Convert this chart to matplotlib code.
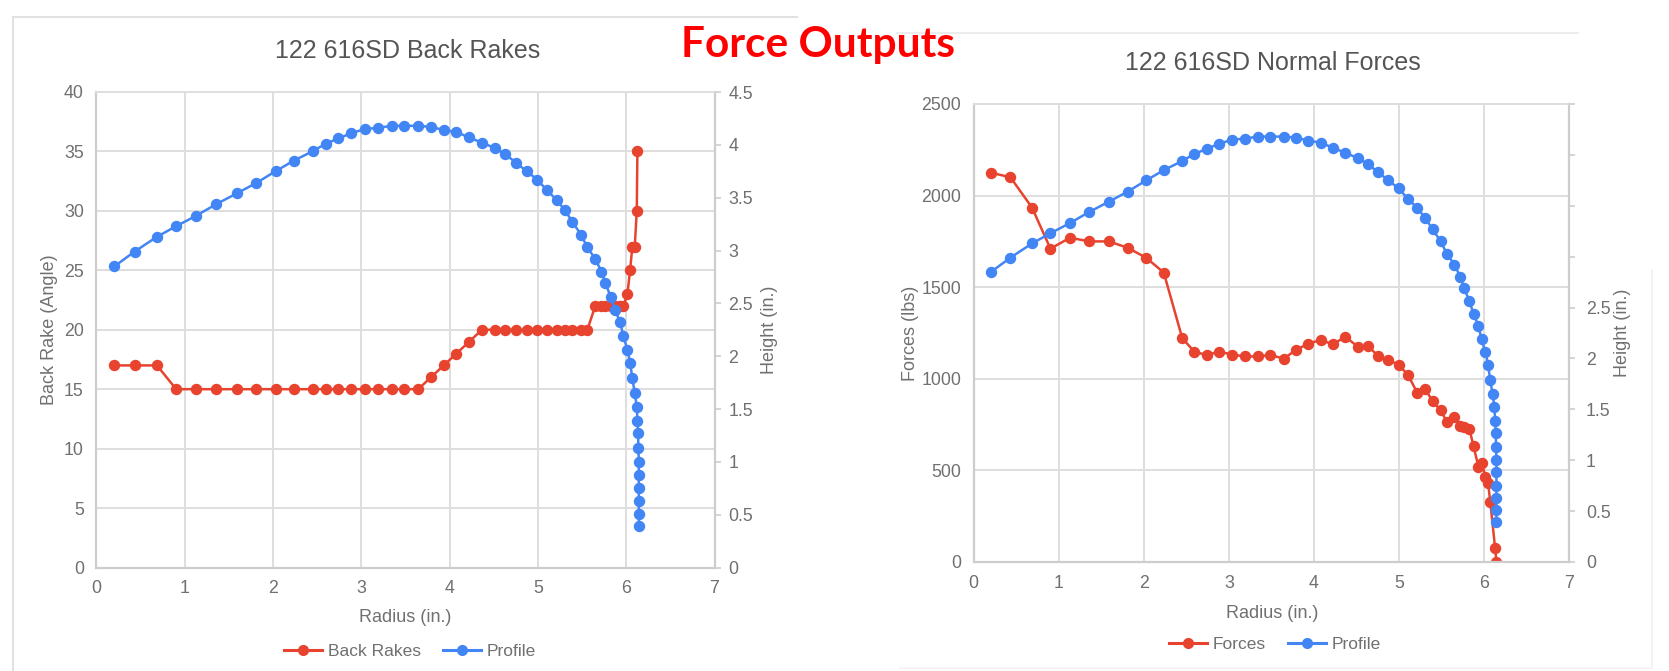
import matplotlib
matplotlib.use("Agg")
import matplotlib.pyplot as plt
from matplotlib.lines import Line2D

# cutter positions along the bit (in.)
radius = [0.205, 0.434, 0.687, 0.904, 1.133, 1.361, 1.590, 1.813, 2.030, 2.235,
          2.452, 2.596, 2.741, 2.886, 3.042, 3.187, 3.343, 3.488, 3.645, 3.789,
          3.934, 4.078, 4.223, 4.367, 4.512, 4.633, 4.753, 4.873, 4.994, 5.102,
          5.211, 5.307, 5.392, 5.488, 5.560, 5.650, 5.720, 5.765, 5.826, 5.874,
          5.931, 5.968, 6.014, 6.044, 6.070, 6.097, 6.120, 6.127, 6.135, 6.138,
          6.143, 6.143, 6.143, 6.143, 6.143, 6.143]
profile = [2.85, 2.99, 3.13, 3.23, 3.33, 3.44, 3.54, 3.64, 3.75, 3.85,
           3.94, 4.01, 4.06, 4.11, 4.15, 4.16, 4.18, 4.18, 4.18, 4.17,
           4.14, 4.12, 4.07, 4.02, 3.97, 3.91, 3.83, 3.75, 3.67, 3.57,
           3.48, 3.38, 3.27, 3.15, 3.03, 2.92, 2.80, 2.69, 2.56, 2.44,
           2.32, 2.19, 2.06, 1.94, 1.79, 1.65, 1.52, 1.39, 1.27, 1.13,
           1.00, 0.88, 0.75, 0.63, 0.51, 0.39]

back_rakes = [17, 17, 17,
              15, 15, 15, 15, 15, 15, 15, 15, 15, 15, 15, 15, 15, 15, 15, 15,
              16, 17, 18, 19,
              20, 20, 20, 20, 20, 20, 20, 20, 20, 20, 20, 20,
              22, 22, 22, 22, 22, 22, 22,
              23, 25, 27, 27, 30, 35]
rake_radius = radius[:len(back_rakes)]

forces = [2125, 2100, 1935, 1710, 1770, 1750, 1750, 1715, 1660, 1580,
          1222, 1147, 1130, 1148, 1132, 1122, 1122, 1130, 1110, 1158,
          1192, 1212, 1188, 1230, 1176, 1180, 1124, 1105, 1075, 1023,
          925, 945, 877, 828, 765, 791, 744, 737, 726, 631,
          521, 543, 466, 433, 330, 77, 0]
force_radius = radius[:45] + [6.127, 6.143]

height_ticks = [0, 0.5, 1, 1.5, 2, 2.5, 3, 3.5, 4, 4.5]
height_labels_left = ["0", "0.5", "1", "1.5", "2", "2.5", "3", "3.5", "4", "4.5"]
height_labels_right = ["0", "0.5", "1", "1.5", "2", "2.5", "", "", "", ""]

RED = "#E8432F"
BLUE = "#4285F4"
GRID = "#dedede"
AXIS = "#cdcdcd"
TXT = "#707070"
TITLE = "#555555"
FONT = "Liberation Sans"

W, H = 1669, 671
plt.rcParams["font.family"] = [FONT, "DejaVu Sans"]
fig = plt.figure(figsize=(W / 100, H / 100), dpi=100)


def fx(x):
    return x / W


def fy(y):
    return 1 - y / H


def rect(x0, y0, x1, y1):
    return [fx(x0), fy(y1), fx(x1) - fx(x0), fy(y0) - fy(y1)]


def style(ax, ax2, ylim, yticks):
    ax.set_xlim(0, 7)
    ax.set_xticks(range(8))
    ax.set_ylim(*ylim)
    ax.set_yticks(yticks)
    ax.grid(True, color=GRID, lw=1.4)
    ax.set_axisbelow(True)
    ax.tick_params(length=0, labelsize=12.8, labelcolor=TXT, pad=9)
    for s in ["left", "bottom", "right"]:
        ax.spines[s].set_color(AXIS)
        ax.spines[s].set_linewidth(1.6)
    ax.spines["top"].set_color(GRID)
    ax.spines["top"].set_linewidth(1.4)
    ax2.set_ylim(0, 4.5)
    ax2.tick_params(length=4, width=1.2, color=AXIS, labelsize=12.8,
                    labelcolor=TXT, pad=6)
    for s in ax2.spines.values():
        s.set_visible(False)


def series(ax, x, y, color, label):
    return ax.plot(x, y, color=color, lw=1.8, marker="o", ms=7.2,
                   mec=color, mfc=color, label=label)[0]


# ---- left chart: back rakes ----
ax = fig.add_axes(rect(96.3, 92, 714.5, 567.5))
ax2 = ax.twinx()
series(ax, rake_radius, back_rakes, RED, "Back Rakes")
series(ax2, radius, profile, BLUE, "Profile")
style(ax, ax2, (0, 40), range(0, 45, 5))
ax2.set_yticks(height_ticks)
ax2.set_yticklabels(height_labels_left)

fig.text(fx(408), fy(51), "122 616SD Back Rakes", ha="center", va="center",
         fontsize=18, color=TITLE)
fig.text(fx(49), fy(330), "Back Rake (Angle)", rotation=90, ha="center",
         va="center", fontsize=13, color=TXT)
fig.text(fx(769), fy(330), "Height (in.)", rotation=90, ha="center",
         va="center", fontsize=13, color=TXT)
fig.text(fx(405), fy(617), "Radius (in.)", ha="center", va="center",
         fontsize=13, color=TXT)

h = [Line2D([], [], color=RED, lw=2.2, marker="o", ms=7),
     Line2D([], [], color=BLUE, lw=2.2, marker="o", ms=7)]
leg = fig.legend(h, ["Back Rakes", "Profile"], loc="center",
                 bbox_to_anchor=(fx(410), fy(651)), ncol=2, frameon=False,
                 fontsize=12.5, handlelength=2.2, handletextpad=0.3,
                 columnspacing=1.3)
for t in leg.get_texts():
    t.set_color(TXT)

# ---- right chart: normal forces ----
bx = fig.add_axes(rect(973.5, 104, 1569.4, 562))
bx2 = bx.twinx()
series(bx, force_radius, forces, RED, "Forces")
series(bx2, radius, profile, BLUE, "Profile")
style(bx, bx2, (0, 2500), range(0, 2501, 500))
bx2.set_yticks(height_ticks)
bx2.set_yticklabels(height_labels_right)
bx2.tick_params(pad=8)

fig.text(fx(1273), fy(63.5), "122 616SD Normal Forces", ha="center",
         va="center", fontsize=18, color=TITLE)
fig.text(fx(910), fy(333), "Forces (lbs)", rotation=90, ha="center",
         va="center", fontsize=13, color=TXT)
fig.text(fx(1622), fy(333), "Height (in.)", rotation=90, ha="center",
         va="center", fontsize=13, color=TXT)
fig.text(fx(1272), fy(613), "Radius (in.)", ha="center", va="center",
         fontsize=13, color=TXT)

h = [Line2D([], [], color=RED, lw=2.2, marker="o", ms=7),
     Line2D([], [], color=BLUE, lw=2.2, marker="o", ms=7)]
leg = fig.legend(h, ["Forces", "Profile"], loc="center",
                 bbox_to_anchor=(fx(1275), fy(644)), ncol=2, frameon=False,
                 fontsize=12.5, handlelength=2.2, handletextpad=0.3,
                 columnspacing=1.3)
for t in leg.get_texts():
    t.set_color(TXT)

# screenshot frames
fig.add_artist(Line2D([fx(13), fx(797)], [fy(16.7), fy(16.7)], color="#e2e2e2", lw=1.5))
fig.add_artist(Line2D([fx(13), fx(13)], [fy(16.7), fy(671)], color="#e2e2e2", lw=1.5))
fig.add_artist(Line2D([fx(897), fx(1578)], [fy(32.7), fy(32.7)], color="#ececec", lw=1.5))
fig.add_artist(Line2D([fx(1652), fx(1652)], [fy(270), fy(668)], color="#f2f2f2", lw=1.2))
fig.add_artist(Line2D([fx(900), fx(1652)], [fy(668), fy(668)], color="#f2f2f2", lw=1.2))

fig.text(fx(817.5), fy(56.7), "Force Outputs", ha="center", va="baseline",
         fontsize=30.5, fontweight="bold", color="#FF0000",
         family=["Lato", "DejaVu Sans"])

fig.savefig("out.png", dpi=100)
